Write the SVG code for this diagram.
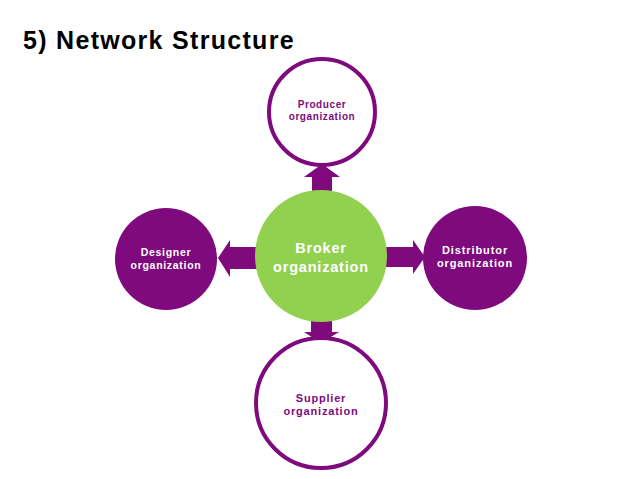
<svg xmlns="http://www.w3.org/2000/svg" width="638" height="479" viewBox="0 0 638 479">
<style>
.t{font-family:"Liberation Sans",Arial,sans-serif;font-weight:bold;text-anchor:middle}
.w{fill:#fff}
.p{fill:#7E0A7E}
.ring{fill:#fff;stroke:#7E0A7E;stroke-width:4}
.solid{fill:#7E0A7E}
.arr{fill:#7E0A7E}
</style>
<rect width="638" height="479" fill="#fff"/>
<text x="23" y="49" font-family="Liberation Sans, Arial, sans-serif" font-weight="bold" font-size="25" letter-spacing="1.3" fill="#000">5) Network Structure</text>
<g id="connectors">
<polygon class="arr" points="312,192 312,177 304,177 322,164 340,177 332,177 332,192"/>
<polygon class="arr" points="258,247 230,247 230,240 218,258 230,277 230,269 258,269"/>
<polygon class="arr" points="384,247 413,247 413,240 425,257 413,274 413,267 384,267"/>
<polygon class="arr" points="311,312 311,332 304,332 321,343 339,332 332,332 332,312"/>
</g>
<g id="broker">
<circle cx="321" cy="256" r="66" fill="#92D050"/>
<text class="t w" x="321" y="253" font-size="14.5" letter-spacing="0.8">Broker</text>
<text class="t w" x="321" y="272" font-size="14.5" letter-spacing="0.8">organization</text>
</g>
<g id="producer">
<circle class="ring" cx="322" cy="112" r="53"/>
<text class="t p" x="322" y="108" font-size="10" letter-spacing="0.6">Producer</text>
<text class="t p" x="322" y="120" font-size="10" letter-spacing="0.6">organization</text>
</g>
<g id="designer">
<circle class="solid" cx="166" cy="259" r="51"/>
<text class="t w" x="166" y="256" font-size="10.5" letter-spacing="0.7">Designer</text>
<text class="t w" x="166" y="269" font-size="10.5" letter-spacing="0.7">organization</text>
</g>
<g id="distributor">
<circle class="solid" cx="475" cy="258" r="52"/>
<text class="t w" x="475" y="254" font-size="11" letter-spacing="0.9">Distributor</text>
<text class="t w" x="475" y="267" font-size="11" letter-spacing="0.9">organization</text>
</g>
<g id="supplier">
<circle class="ring" cx="321" cy="403" r="65"/>
<text class="t p" x="321" y="402" font-size="11" letter-spacing="0.8">Supplier</text>
<text class="t p" x="321" y="415" font-size="11" letter-spacing="0.8">organization</text>
</g>
</svg>
